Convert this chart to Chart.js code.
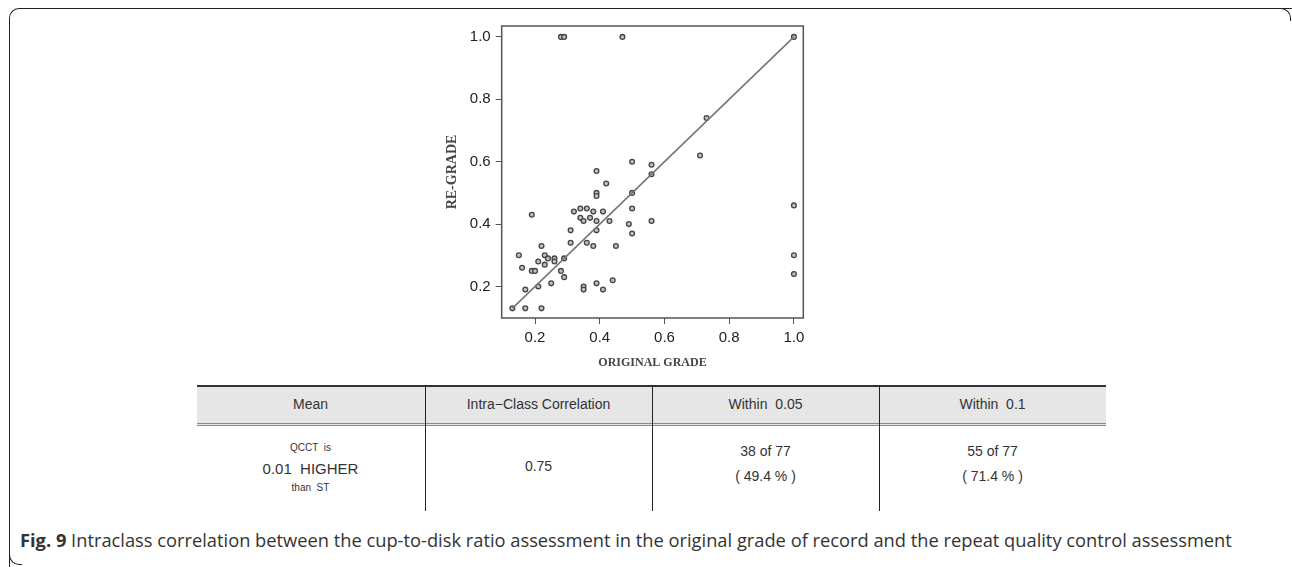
<!DOCTYPE html>
<html>
<head>
<meta charset="utf-8">
<script src="https://cdn.jsdelivr.net/npm/chart.js@4/dist/chart.umd.min.js"></script>
<style>
  html, body { margin: 0; padding: 0; background: #fff; }
  body { width: 1292px; height: 567px; position: relative; overflow: hidden; font-family: "Liberation Sans", Arial, sans-serif; }
  .frame { position: absolute; left: 9px; top: 8px; width: 1300px; height: 600px; border-left: 1.5px solid #222; border-top: 1.5px solid #222; border-top-left-radius: 10px; }
  .corner-tr { position: absolute; left: 1278px; top: 8px; width: 12px; height: 12px; border-top: 1.5px solid #222; border-right: 1.5px solid #222; border-top-right-radius: 10px; }
  .corner-bl { position: absolute; left: 9px; top: 552px; width: 12px; height: 12px; border-bottom: 1.5px solid #222; border-left: 1.5px solid #222; border-bottom-left-radius: 10px; }
  .chart-box { position: absolute; left: 400px; top: 12px; width: 420px; height: 358px; }
  .tbl-head { position: absolute; left: 197px; top: 385px; width: 909px; height: 36px; background: #e6e6e6; border-top: 2.5px solid #333; border-bottom: 3px double #888; }
  .vline { position: absolute; top: 385px; width: 0; height: 126px; border-left: 1.5px solid #222; }
  .cell { position: absolute; width: 227px; text-align: center; color: #333; font-size: 14px; }
  .caption { position: absolute; left: 20px; top: 527px; font-family: "Open Sans", sans-serif; font-size: 18.3px; color: #333; white-space: nowrap; }
</style>
</head>
<body>
<div class="frame"></div>
<div class="corner-tr"></div>
<div class="corner-bl"></div>

<div class="chart-box"><canvas id="myChart"></canvas></div>

<div class="tbl-head"></div>
<div class="vline" style="left:425px"></div>
<div class="vline" style="left:652px"></div>
<div class="vline" style="left:879px"></div>
<div id="table"></div>

<div class="caption"><b>Fig. 9</b> Intraclass correlation between the cup-to-disk ratio assessment in the original grade of record and the repeat quality control assessment</div>

<script>
// original grade (x) and re-grade (y) for each eye
const originalGrade = [0.13, 0.17, 0.22, 0.17, 0.15, 0.16, 0.19, 0.19, 0.20, 0.21, 0.21, 0.22, 0.23, 0.23, 0.24, 0.25, 0.26, 0.26, 0.28, 0.29, 0.29,
    0.31, 0.31, 0.32, 0.34, 0.34, 0.35, 0.35, 0.35, 0.36, 0.36, 0.37, 0.38, 0.38, 0.39, 0.39, 0.39, 0.39, 0.39, 0.39, 0.41, 0.41, 0.42,
    0.43, 0.44, 0.45, 0.49, 0.50, 0.50, 0.50, 0.50, 0.56, 0.56, 0.56, 0.28, 0.29, 0.47, 0.71, 0.73, 1.0, 1.0, 1.0, 1.0];
const reGrade = [0.13, 0.13, 0.13, 0.19, 0.30, 0.26, 0.43, 0.25, 0.25, 0.20, 0.28, 0.33, 0.27, 0.30, 0.29, 0.21, 0.29, 0.28, 0.25, 0.23, 0.29,
    0.34, 0.38, 0.44, 0.45, 0.42, 0.41, 0.20, 0.19, 0.45, 0.34, 0.42, 0.44, 0.33, 0.57, 0.50, 0.49, 0.41, 0.38, 0.21, 0.44, 0.19, 0.53,
    0.41, 0.22, 0.33, 0.40, 0.37, 0.45, 0.50, 0.60, 0.59, 0.56, 0.41, 1.0, 1.0, 1.0, 0.62, 0.74, 1.0, 0.46, 0.30, 0.24];

// fitted line end points
const lineX = [0.13, 1.0];
const lineY = [0.13, 1.0];

const xTicks = [0.2, 0.4, 0.6, 0.8, 1.0];
const yTicks = [0.2, 0.4, 0.6, 0.8, 1.0];

// table below the plot
const tableHeaders = ['Mean', 'Intra\u2212Class Correlation', 'Within  0.05', 'Within  0.1'];
const withinCounts = ['38 of 77', '55 of 77'];
const withinPct = ['( 49.4 % )', '( 71.4 % )'];
const iccValue = '0.75';

const buildTable = function () {
    let html = '';
    const left = [197, 425, 652, 879];
    tableHeaders.forEach(function (h, i) {
        html += `<div class="cell" style="left:${left[i]}px;top:396px">${h.replace(/  /g, '&nbsp; ')}</div>`;
    });
    html += `<div class="cell" style="left:197px;top:442px;font-size:10px">QCCT&nbsp; is</div>`;
    html += `<div class="cell" style="left:197px;top:460px;font-size:15px">0.01&nbsp; HIGHER</div>`;
    html += `<div class="cell" style="left:197px;top:482px;font-size:10px">than&nbsp; ST</div>`;
    html += `<div class="cell" style="left:425px;top:458px">${iccValue}</div>`;
    for (let i = 0; i < withinCounts.length; i++) {
        html += `<div class="cell" style="left:${left[i + 2]}px;top:443px">${withinCounts[i]}</div>`;
        html += `<div class="cell" style="left:${left[i + 2]}px;top:468px">${withinPct[i]}</div>`;
    }
    document.getElementById('table').innerHTML = html;
};

const boxPlugin = {
    id: 'box',
    afterDraw(chart) {
        const a = chart.chartArea;
        const ctx = chart.ctx;
        ctx.save();
        ctx.strokeStyle = '#555';
        ctx.lineWidth = 1.5;
        ctx.strokeRect(a.left, a.top, a.right - a.left, a.bottom - a.top);
        ctx.restore();
    }
};

const drawChart = function () {
    let ctx = document.getElementById('myChart').getContext('2d');
    let points = originalGrade.map((x, i) => ({x: x, y: reGrade[i]}));
    let line = lineX.map((x, i) => ({x: x, y: lineY[i]}));

    new Chart(ctx, {
        type: 'scatter',
        data: {
            datasets: [
                {
                    type: 'line',
                    data: line,
                    borderColor: '#767676',
                    borderWidth: 1.6,
                    pointRadius: 0,
                    fill: false
                },
                {
                    data: points,
                    pointRadius: 2.4,
                    borderWidth: 1.3,
                    borderColor: '#444',
                    backgroundColor: '#c0c0c0'
                }
            ]
        },
        options: {
            responsive: true,
            maintainAspectRatio: false,
            animation: false,
            layout: {padding: {left: 0, right: 16.7, top: 8.2, bottom: 0}},
            plugins: {legend: {display: false}, tooltip: {enabled: false}},
            scales: {
                x: {
                    type: 'linear',
                    min: 0.097,
                    max: 1.029,
                    afterBuildTicks: s => { s.ticks = xTicks.map(v => ({value: v})); },
                    afterFit: s => { s.height = 52; },
                    grid: {drawOnChartArea: false, drawTicks: true, tickLength: 6, color: '#555'},
                    border: {display: false},
                    ticks: {callback: v => v.toFixed(1), color: '#222', font: {family: 'Liberation Sans', size: 15}, padding: 5, maxRotation: 0},
                    title: {display: true, text: 'ORIGINAL GRADE', color: '#444', font: {family: 'Liberation Serif', size: 12, weight: 'bold'}, padding: {top: 11, bottom: 0}}
                },
                y: {
                    type: 'linear',
                    min: 0.099,
                    max: 1.035,
                    afterBuildTicks: s => { s.ticks = yTicks.map(v => ({value: v})); },
                    afterFit: s => { s.width = 101.7; },
                    grid: {drawOnChartArea: false, drawTicks: true, tickLength: 6, color: '#555'},
                    border: {display: false},
                    ticks: {callback: v => v.toFixed(1), color: '#222', font: {family: 'Liberation Sans', size: 15}, padding: 5},
                    title: {display: true, text: 'RE-GRADE', color: '#444', font: {family: 'Liberation Serif', size: 14, weight: 'bold'}, padding: {top: 44, bottom: 0}}
                }
            }
        },
        plugins: [boxPlugin]
    });
};

document.addEventListener('DOMContentLoaded', function () {
    buildTable();
    drawChart();
});
</script>
</body>
</html>
